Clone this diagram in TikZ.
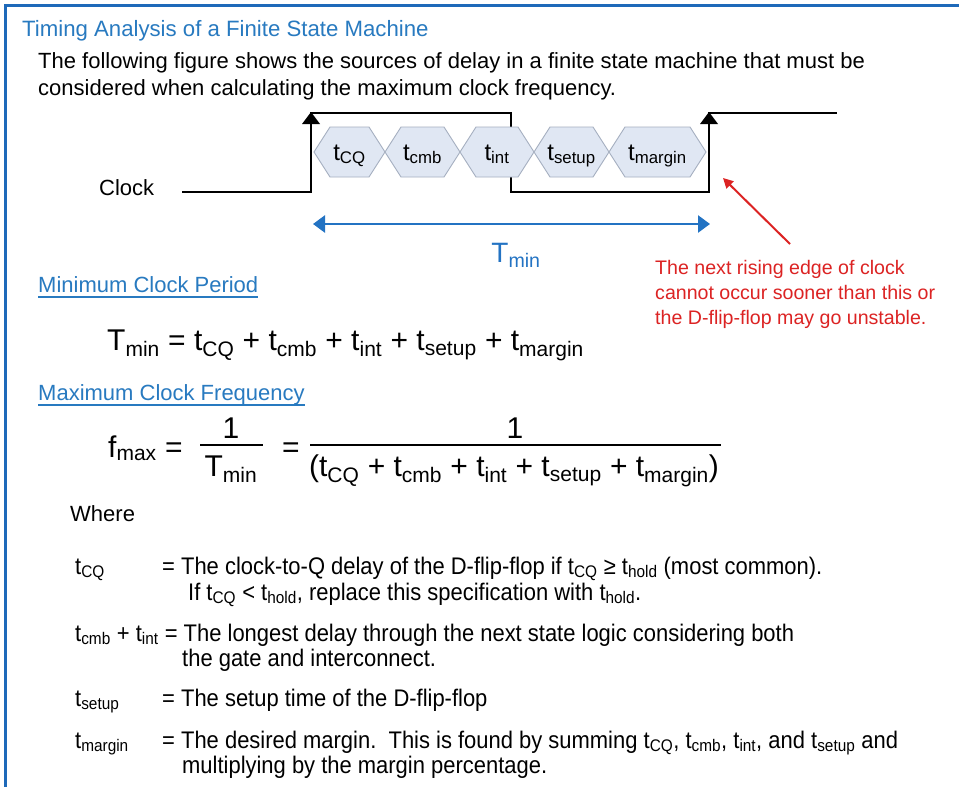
\documentclass[tikz,border=0pt]{standalone}
\usepackage{fontspec}
\setmainfont{Liberation Sans}
\newfontfamily\narrowfont{Liberation Sans}[FakeStretch=0.915]
\usetikzlibrary{arrows.meta}
\definecolor{hblue}{RGB}{40,122,192}
\definecolor{bordblue}{RGB}{30,105,185}
\definecolor{tblue}{RGB}{35,115,195}
\definecolor{nred}{RGB}{220,35,35}
\definecolor{hexfill}{RGB}{224,231,243}
\definecolor{hexline}{RGB}{165,175,192}
\newcommand{\tsb}[1]{t\textsubscript{#1}}
\tikzset{
  txt/.style={inner sep=0pt, anchor=base west},
  ctxt/.style={inner sep=0pt, anchor=base},
  wave/.style={line width=2.4pt, black, line join=miter},
  hexbox/.style={fill=hexfill, draw=hexline, line width=0.9pt},
  bodyfont/.style={font=\fontsize{22}{26}\selectfont},
  hexfont/.style={font=\fontsize{24}{28}\selectfont},
  eqfont/.style={font=\fontsize{30}{34}\selectfont},
  deffont/.style={font=\narrowfont\fontsize{24}{28}\selectfont},
  notefont/.style={font=\fontsize{19.6}{24}\selectfont},
}
\begin{document}
\begin{tikzpicture}[x=1pt,y=-1pt]
\useasboundingbox (0,0) rectangle (959,787);
\fill[white] (0,0) rectangle (959,787);
\draw[bordblue, line width=3pt] (5,787) -- (5,5) -- (959,5);

% header
\node[txt, text=hblue, font=\fontsize{22.2}{26}\selectfont] (title) at (22,36) {Timing Analysis of a Finite State Machine};
\node[txt, bodyfont] (intro1) at (38,68) {The following figure shows the sources of delay in a finite state machine that must be};
\node[txt, bodyfont] (intro2) at (38,95) {considered when calculating the maximum clock frequency.};

% clock waveform
\node[txt, bodyfont] (clk) at (99,195) {Clock};
\draw[wave] (182,192) -- (311,192) -- (311,113) -- (511,113) -- (511,192) -- (709,192) -- (709,113) -- (837,113);
\fill (311,112) -- (302,124) -- (320,124) -- cycle;
\fill (709,112) -- (700,124) -- (718,124) -- cycle;

% hexagons
\foreach \a/\b/\lab/\nm in {314/385/CQ/h1, 385/460/cmb/h2, 460/534/int/h3, 534/609/setup/h4, 609/706/margin/h5}{
  \draw[hexbox] (\a,152) -- (\a+16,127) -- (\b-16,127) -- (\b,152) -- (\b-16,177) -- (\a+16,177) -- cycle;
  \node[ctxt, hexfont] (\nm) at ({(\a+\b)/2},160) {\tsb{\lab}};
}

% Tmin arrow
\coordinate (tl) at (313,224);
\coordinate (tr) at (710,224);
\draw[tblue, line width=2.6pt, {Triangle[width=17pt,length=12pt]}-{Triangle[width=17pt,length=12pt]}] (tl) -- (tr);
\node[ctxt, text=tblue, font=\fontsize{28}{30}\selectfont] (tminlab) at (516,262) {T\textsubscript{min}};

% red note
\coordinate (rtail) at (790,244);
\coordinate (rtip) at (723,178);
\draw[nred, line width=2pt, -{Triangle[width=10pt,length=10pt]}] (rtail) -- (rtip);
\node[txt, text=nred, notefont] (n1) at (655,274) {The next rising edge of clock};
\node[txt, text=nred, notefont] (n2) at (655,299) {cannot occur sooner than this or};
\node[txt, text=nred, notefont] (n3) at (655,324) {the D-flip-flop may go unstable.};

% minimum clock period
\node[txt, text=hblue, bodyfont] (minhead) at (38,292) {Minimum Clock Period};
\draw[hblue, line width=1.3pt] (38,297) -- (minhead.base east |- 0,297);
\node[txt, eqfont] (tmineq) at (107,350) {T\textsubscript{min} = \tsb{CQ} + \tsb{cmb} + \tsb{int} + \tsb{setup} + \tsb{margin}};

% maximum clock frequency
\node[txt, text=hblue, bodyfont] (maxhead) at (38,400) {Maximum Clock Frequency};
\draw[hblue, line width=1.3pt] (38,405) -- (maxhead.base east |- 0,405);
\node[txt, eqfont] (fmax) at (108,457) {f\textsubscript{max} =};
\node[ctxt, eqfont] (one1) at (231,438) {1};
\draw[line width=1.6pt] (200,445) -- (263,445);
\node[ctxt, eqfont] (tmin2) at (231,476) {T\textsubscript{min}};
\node[txt, eqfont] (eq2) at (282,457) {=};
\node[ctxt, eqfont] (one2) at (515,438) {1};
\draw[line width=1.6pt] (310,445) -- (721,445);
\node[ctxt, eqfont] (den) at (514,476) {(\tsb{CQ} + \tsb{cmb} + \tsb{int} + \tsb{setup} + \tsb{margin})};

% where
\node[txt, bodyfont] (where) at (70,521) {Where};
\node[txt, deffont] (d1l) at (75,574) {\tsb{CQ}};
\node[txt, deffont] (d1a) at (162,574) {= The clock-to-Q delay of the D-flip-flop if \tsb{CQ} ≥ \tsb{hold} (most common).};
\node[txt, deffont] (d1b) at (188,600) {If \tsb{CQ} < \tsb{hold}, replace this specification with \tsb{hold}.};
\node[txt, deffont] (d2a) at (75,641) {\tsb{cmb} + \tsb{int} = The longest delay through the next state logic considering both};
\node[txt, deffont] (d2b) at (182,666) {the gate and interconnect.};
\node[txt, deffont] (d3l) at (75,706) {\tsb{setup}};
\node[txt, deffont] (d3a) at (162,706) {= The setup time of the D-flip-flop};
\node[txt, deffont] (d4l) at (75,748) {\tsb{margin}};
\node[txt, deffont] (d4a) at (162,748) {= The desired margin.\ \ This is found by summing \tsb{CQ}, \tsb{cmb}, \tsb{int}, and \tsb{setup} and};
\node[txt, deffont] (d4b) at (182,773) {multiplying by the margin percentage.};
\end{tikzpicture}
\end{document}
